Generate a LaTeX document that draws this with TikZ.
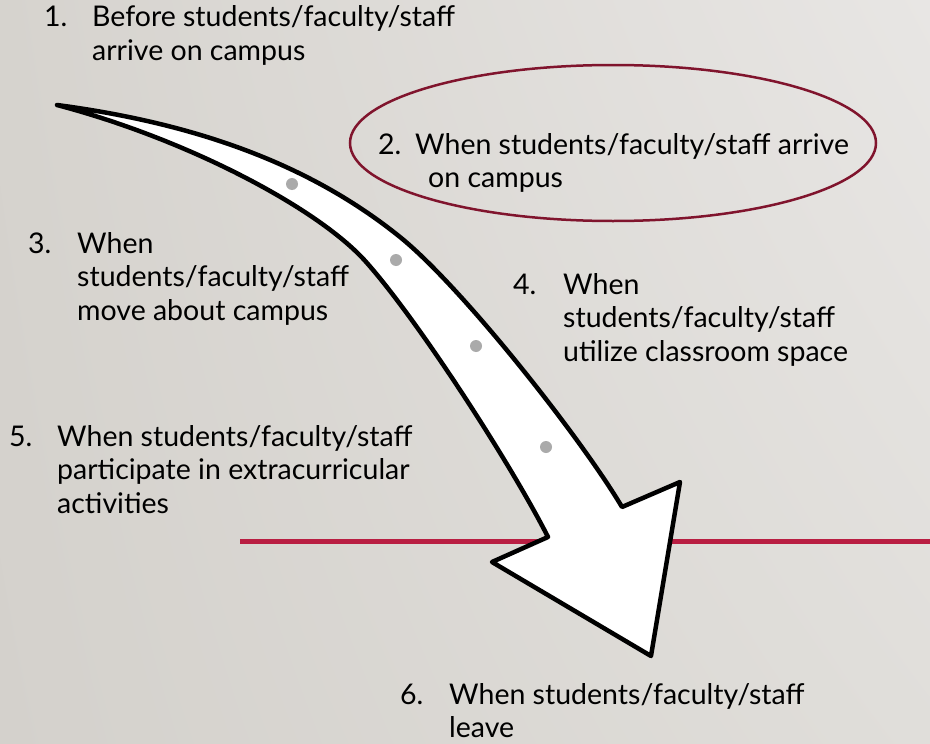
\documentclass[tikz,border=0pt]{standalone}
\usepackage{fontspec}
\setmainfont{Lato}
\usetikzlibrary{calc}
\usetikzlibrary{shadings}
\usetikzlibrary{shapes.geometric}

\definecolor{bgUL}{RGB}{214,211,206}
\definecolor{bgUR}{RGB}{232,230,228}
\definecolor{bgLL}{RGB}{212,209,204}
\definecolor{bgLR}{RGB}{224,222,218}
\definecolor{ruleRed}{RGB}{185,30,66}
\definecolor{ovalRed}{RGB}{128,20,45}
\definecolor{dotGray}{RGB}{170,170,170}

%lines of one item, baseline on the first line
\newcommand{\itemlines}[1]{\begin{tabular}[t]{@{}l@{}}#1\end{tabular}}

\begin{document}
\begin{tikzpicture}[x=1pt,y=-1pt,
	itemtext/.style={anchor=base west, inner sep=0pt, font=\fontsize{28.5}{33.5}\selectfont},
	itemnum/.style={anchor=base west, inner sep=0pt, font=\fontsize{28.5}{33.5}\selectfont}]

	\def\W{930} %picture width
	\def\H{744} %picture height
	\def\lThick{4.5} %arrow outline width in pt
	\def\dotR{6} %dot radius in pt

	%background
	\useasboundingbox (0,0) rectangle (\W,\H);
	\shade[upper left=bgUL, upper right=bgUR, lower left=bgLL, lower right=bgLR] (0,0) rectangle (\W,\H);

	%red rule behind the arrow
	\coordinate (r1) at (240,541);
	\coordinate (r2) at (\W,541);
	\draw[ruleRed, line width=5pt] (r1) -- (r2);

	%oval round item 2
	\node[draw=ovalRed, line width=2.5pt, ellipse, minimum width=526pt, minimum height=156pt, inner sep=0pt] (oval) at (613,143) {};

	%arrow corners
	\coordinate (tail) at (57,105);
	\coordinate (umid) at (400,237);
	\coordinate (rin) at (622,507);
	\coordinate (rbarb) at (680,482);
	\coordinate (tip) at (651,656);
	\coordinate (lbarb) at (492,562);
	\coordinate (lin) at (548,537);
	\coordinate (lmid) at (367,263);
	%arrow body
	\filldraw[fill=white, draw=black, line width=\lThick pt, line join=round]
		(tail) .. controls (200,124) and (312,166) .. (umid)
		.. controls (462,287) and (581,438) .. (rin)
		-- (rbarb) -- (tip) -- (lbarb) -- (lin)
		.. controls (512,466) and (420,323) .. (lmid)
		.. controls (321,210) and (190,140) .. (tail) -- cycle;

	%dots on the arrow
	\foreach \p/\name in {{(292,184)}/d1, {(396,260)}/d2, {(476,346)}/d3, {(546,447)}/d4}
		\fill[dotGray] \p circle (\dotR pt) coordinate (\name);

	%item labels
	\node[itemnum] (num1) at (44,27) {1.};
	\node[itemtext] (txt1) at (92,27) {\itemlines{Before students/faculty/staff\\arrive on campus}};
	\node[itemnum] (num2) at (378,154) {2.};
	\node[itemtext] (txt2) at (415,154) {\itemlines{When students/faculty/staff arrive\\\hspace{13pt}on campus}};
	\node[itemnum] (num3) at (28,253) {3.};
	\node[itemtext] (txt3) at (77,253) {\itemlines{When\\students/faculty/staff\\move about campus}};
	\node[itemnum] (num4) at (513,294) {4.};
	\node[itemtext] (txt4) at (563,294) {\itemlines{When\\students/faculty/staff\\utilize classroom space}};
	\node[itemnum] (num5) at (9,446) {5.};
	\node[itemtext] (txt5) at (57,446) {\itemlines{When students/faculty/staff\\participate in extracurricular\\activities}};
	\node[itemnum] (num6) at (400,704) {6.};
	\node[itemtext] (txt6) at (449,704) {\itemlines{When students/faculty/staff\\leave}};

\end{tikzpicture}
\end{document}
